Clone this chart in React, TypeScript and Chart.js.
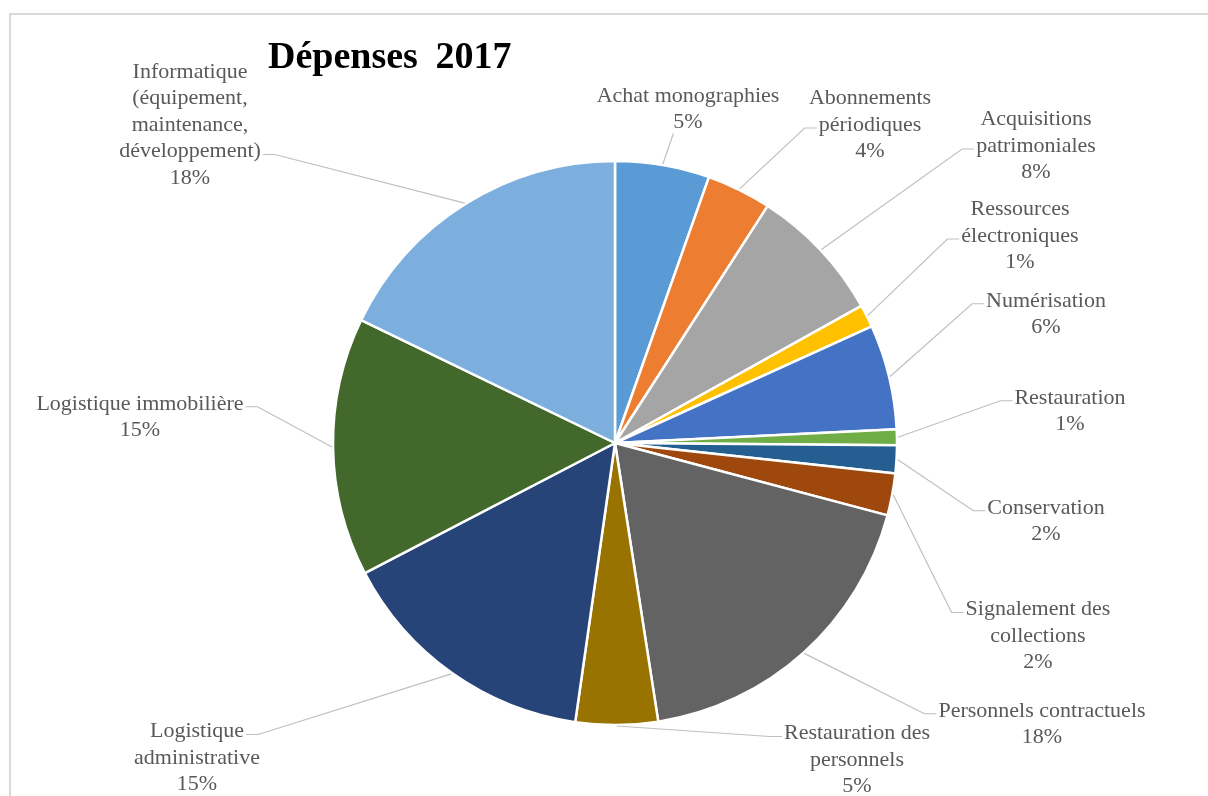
import React, { useEffect, useRef } from "react";
import { Chart, registerables } from "chart.js";

Chart.register(...registerables);

// ---- data ----
const chartTitle = "Dépenses 2017";

const categories: string[][] = [
  ["Achat monographies"],
  ["Abonnements", "périodiques"],
  ["Acquisitions", "patrimoniales"],
  ["Ressources", "électroniques"],
  ["Numérisation"],
  ["Restauration"],
  ["Conservation"],
  ["Signalement des", "collections"],
  ["Personnels contractuels"],
  ["Restauration des", "personnels"],
  ["Logistique", "administrative"],
  ["Logistique immobilière"],
  ["Informatique", "(équipement,", "maintenance,", "développement)"],
];

const shares = [5.4, 3.7, 7.8, 1.3, 6.0, 0.9, 1.6, 2.4, 18.4, 4.7, 15.1, 14.8, 17.8];

const sliceColors = [
  "#5B9BD5",
  "#ED7D31",
  "#A5A5A5",
  "#FFC000",
  "#4472C4",
  "#70AD47",
  "#255E91",
  "#9E480E",
  "#636363",
  "#997300",
  "#264478",
  "#43682B",
  "#7CAFDD",
];

// ---- label layout (offset of each label block centre from the pie centre) ----
const labelOffsets: [number, number][] = [
  [73, -334],
  [255, -318],
  [421, -297],
  [405, -207],
  [431, -129],
  [455, -32],
  [431, 78],
  [423, 193],
  [427, 281],
  [242, 317],
  [-418, 315],
  [-475, -26],
  [-425, -318],
];
const labelSides = [
  "bottom", "left", "left", "left", "left", "left", "left",
  "left", "left", "left", "right", "right", "right",
];
const labelAttachLine = [0, 1, 1, 1, 0, 0, 0, 0, 0, 0, 0, 0, 3];

const FONT = '"Liberation Serif", "Times New Roman", serif';
const LABEL_SIZE = 22;
const LINE_H = 26.5;
const TEXT_COLOR = "#595959";
const LEADER_COLOR = "#BFBFBF";

const labelPlugin = {
  id: "outsideLabels",
  afterDatasetsDraw(chart: any) {
    const ctx: CanvasRenderingContext2D = chart.ctx;
    const meta = chart.getDatasetMeta(0);
    const data = chart.data.datasets[0].data as number[];
    const total = data.reduce((a, b) => a + b, 0);
    ctx.save();
    ctx.font = `${LABEL_SIZE}px ${FONT}`;
    ctx.textAlign = "center";
    ctx.textBaseline = "middle";
    meta.data.forEach((arc: any, i: number) => {
      const p = arc.getProps(["x", "y", "startAngle", "endAngle", "outerRadius"], true);
      const mid = (p.startAngle + p.endAngle) / 2;
      const ax = p.x + Math.cos(mid) * (p.outerRadius + 1);
      const ay = p.y + Math.sin(mid) * (p.outerRadius + 1);
      const lines = [
        ...(chart.data.labels[i] as string[]),
        Math.round((data[i] / total) * 100) + "%",
      ];
      const [dx, dy] = labelOffsets[i];
      const cx = p.x + dx;
      const cy = p.y + dy;
      const top = cy - (lines.length * LINE_H) / 2;
      const lineY = (k: number) => top + LINE_H * (k + 0.5);

      // leader line
      ctx.strokeStyle = LEADER_COLOR;
      ctx.lineWidth = 1.2;
      ctx.beginPath();
      const side = labelSides[i];
      const k = labelAttachLine[i];
      if (side === "bottom") {
        const last = lines.length - 1;
        const w = ctx.measureText(lines[last]).width;
        const bx = cx - w / 2;
        const by = lineY(last) + LINE_H / 2 - 2;
        ctx.moveTo(bx, by);
        ctx.lineTo(ax, ay);
      } else {
        const w = ctx.measureText(lines[k]).width;
        const sy = lineY(k) + 3;
        if (side === "left") {
          const ex = cx - w / 2 - 2;
          ctx.moveTo(ex, sy);
          ctx.lineTo(ex - 12, sy);
          ctx.lineTo(ax, ay);
        } else {
          const ex = cx + w / 2 + 2;
          ctx.moveTo(ex, sy);
          ctx.lineTo(ex + 12, sy);
          ctx.lineTo(ax, ay);
        }
      }
      ctx.stroke();

      // text
      ctx.fillStyle = TEXT_COLOR;
      lines.forEach((ln, j) => ctx.fillText(ln, cx, lineY(j)));
    });

    // title
    ctx.font = `bold 38px ${FONT}`;
    ctx.fillStyle = "#000000";
    ctx.textAlign = "left";
    ctx.textBaseline = "alphabetic";
    (ctx as any).wordSpacing = "8px";
    ctx.fillText(chartTitle, 268, 68);
    ctx.restore();
  },
};

export default function App() {
  const canvasRef = useRef<HTMLCanvasElement | null>(null);

  useEffect(() => {
    if (!canvasRef.current) return;
    const chart = new Chart(canvasRef.current, {
      type: "pie",
      data: {
        labels: categories,
        datasets: [
          {
            data: shares,
            backgroundColor: sliceColors,
            borderColor: "#FFFFFF",
            borderWidth: 2.5,
          },
        ],
      },
      options: {
        responsive: false,
        animation: false,
        radius: 282,
        layout: { padding: { left: 22, right: 0, top: 90, bottom: 0 } },
        plugins: {
          legend: { display: false },
          title: { display: false },
          tooltip: { enabled: false },
        },
      } as any,
      plugins: [labelPlugin],
    });
    return () => chart.destroy();
  }, []);

  return (
    <div
      style={{
        position: "fixed",
        left: 0,
        top: 0,
        width: 1208,
        height: 796,
        overflow: "hidden",
        background: "#FFFFFF",
      }}
    >
      <div
        style={{
          position: "absolute",
          left: 9,
          top: 13,
          width: 1300,
          height: 900,
          border: "2px solid #D9D9D9",
        }}
      />
      <canvas
        ref={canvasRef}
        width={1208}
        height={796}
        style={{ position: "absolute", left: 0, top: 0, display: "block" }}
      />
    </div>
  );
}
